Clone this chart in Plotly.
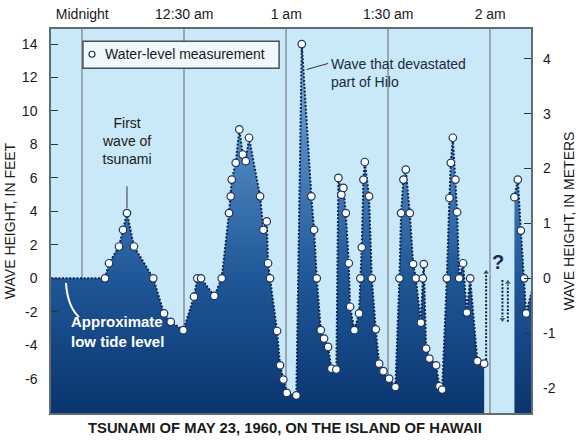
import plotly.graph_objects as go

FT_PER_M = 3.28084
Y_MIN, Y_MAX = -8.05, 14.9
X_MIN, X_MAX = -9.2, 132.0

# minutes after midnight / wave height in feet
seg1_min = [6.68, 7.86, 10.80, 11.98, 13.15, 15.21, 20.89, 24.04, 26.02, 29.72,
            32.87, 33.84, 34.93, 38.85, 41.02, 43.17, 43.67, 43.97, 45.14, 46.20,
            47.20, 48.09, 49.06, 52.30, 53.27, 54.27, 54.65, 55.24, 57.30, 58.18,
            59.15, 60.15, 62.98, 64.57, 67.39, 68.19, 68.98, 70.16, 71.13, 72.31,
            73.28, 74.75, 75.34, 76.22, 76.81, 77.52, 78.40, 78.78, 80.05, 81.43,
            81.81, 82.22, 82.70, 83.11, 84.37, 85.17, 86.34, 87.32, 88.58, 90.26,
            92.11, 93.29, 93.79, 94.47, 95.17, 96.35, 97.32, 98.12, 99.59, 100.18,
            100.47, 101.15, 102.12, 104.09, 105.06, 105.86, 107.24, 108.00, 108.42, 109.00,
            109.77, 110.27, 110.86, 112.03, 113.13, 114.10, 116.24, 118.22]
seg1_ft = [0, 0.9, 1.9, 2.9, 3.9, 1.9, 0, -2.1, -2.6, -3.1,
           -1.1, 0, 0, -1.05, 0, 3.9, 4.9, 5.9, 6.9, 8.9,
           7.4, 7.0, 8.4, 4.9, 2.9, 3.4, 0.9, 0, -3.15, -5.2,
           -6.05, -6.85, -7.0, 14.0, 4.9, 2.9, 0, -3.1, -3.6, -4.1,
           -5.4, -5.45, 6.0, 5.0, 5.4, 3.9, 0.9, -1.7, -3.1, -2.1,
           0, 1.85, 5.9, 6.95, 4.9, 0, -3.05, -5.1, -5.55, -6.0,
           -6.5, 0, 3.9, 5.9, 6.5, 3.9, 0.85, 0, -2.65, 0,
           0.85, -4.2, -4.8, -5.2, -6.45, -6.65, 0, 4.8, 6.9, 8.4,
           5.9, 3.95, 0, 0.9, -2.05, 0, -4.95, -5.1]

seg2_min = [127.13, 128.13, 129.01, 129.99, 130.57]
seg2_ft = [4.85, 5.9, 2.85, 0, -2.1]
seg2_tail_min, seg2_tail_ft = 132.6, -0.5

low_tide_start_min = X_MIN - 1
low_tide_ft = 0

tick_minutes = [0, 30, 60, 90, 120]
tick_labels = ["Midnight", "12:30 am", "1 am", "1:30 am", "2 am"]
ft_ticks = [-6, -4, -2, 0, 2, 4, 6, 8, 10, 12, 14]
m_ticks = [-2, -1, 0, 1, 2, 3, 4]

FONT = "Liberation Sans, Arial, Helvetica, sans-serif"
BG = "#c9e8f8"
LINE = "#0d2452"
GRAD = dict(type="vertical", start=-8.05, stop=14.5,
            colorscale=[[0, "#0a356f"], [0.36, "#1f5798"], [1, "#79b0e2"]])

fig = go.Figure()

# segment 1 (with low-tide lead-in)
s1x = [low_tide_start_min] + seg1_min
s1y = [low_tide_ft] + seg1_ft
fig.add_trace(go.Scatter(x=s1x, y=[Y_MIN] * len(s1x), mode="lines",
                         line=dict(width=0), showlegend=False, hoverinfo="skip"))
fig.add_trace(go.Scatter(x=s1x, y=s1y, mode="lines", fill="tonexty",
                         fillgradient=GRAD, line=dict(color=LINE, width=2, dash="2px,1.6px"),
                         showlegend=False, hoverinfo="skip"))

# segment 2
s2x = seg2_min + [seg2_tail_min]
s2y = seg2_ft + [seg2_tail_ft]
fig.add_trace(go.Scatter(x=s2x, y=[Y_MIN] * len(s2x), mode="lines",
                         line=dict(width=0), showlegend=False, hoverinfo="skip"))
fig.add_trace(go.Scatter(x=s2x, y=s2y, mode="lines", fill="tonexty",
                         fillgradient=GRAD, line=dict(color=LINE, width=2, dash="2px,1.6px"),
                         showlegend=False, hoverinfo="skip"))

# uncertain-motion arrows in the gap
arrows = [
    (118.8, -4.88, 0.35, "triangle-up"),
    (123.6, -0.1, -2.45, "triangle-down"),
    (125.19, -2.6, -0.25, "triangle-up"),
]
for ax_, y0, y1, sym in arrows:
    fig.add_trace(go.Scatter(x=[ax_, ax_], y=[y0, y1], mode="lines+markers",
                             line=dict(color=LINE, width=2, dash="2px,1.6px"),
                             marker=dict(size=[0, 7], symbol=sym, color=LINE),
                             showlegend=False, hoverinfo="skip"))

# measurement markers
for mx, my in [(seg1_min, seg1_ft), (seg2_min, seg2_ft)]:
    fig.add_trace(go.Scatter(x=mx, y=my, mode="markers",
                             marker=dict(size=7.5, color="white",
                                         line=dict(color="#1b355f", width=1.2)),
                             showlegend=False, hoverinfo="skip"))

# secondary axis anchor trace
fig.add_trace(go.Scatter(x=[None], y=[None], yaxis="y2", showlegend=False))

annotations = [
    dict(x=13.15, y=8.2, text="First<br>wave of<br>tsunami", showarrow=False,
         font=dict(size=14, color="#1a1a1a"), align="center", yanchor="middle"),
    dict(x=72.6, y=12.3, text="Wave that devastated<br>part of Hilo", showarrow=False,
         xanchor="left", align="left", font=dict(size=14, color="#1a2a40")),
    dict(x=-3.8, y=-3.15, text="<b>Approximate<br>low tide level</b>", showarrow=False,
         xanchor="left", align="left", font=dict(size=15, color="white")),
    dict(x=122.3, y=0.97, text="<b>?</b>", showarrow=False,
         font=dict(size=20, color="#1a2a50")),
    dict(x=6.1, y=13.39, text="Water-level measurement", showarrow=False,
         xanchor="left", font=dict(size=14, color="#1a1a1a")),
    dict(xref="paper", yref="paper", x=0.4885, y=-0.038, yanchor="middle",
         text="<b>TSUNAMI OF MAY 23, 1960, ON THE ISLAND OF HAWAII</b>",
         showarrow=False, font=dict(size=14.8, color="#1a1a1a")),
]

shapes = [
    # legend box
    dict(type="rect", xref="x", yref="y", x0=0.2, x1=57.9, y0=12.56, y1=14.17,
         fillcolor="#eef8fd", line=dict(color="#4a4f55", width=1.5), layer="above"),
    dict(type="circle", xref="x", yref="y", xsizemode="pixel", ysizemode="pixel",
         xanchor=2.85, yanchor=13.39, x0=-3, x1=3, y0=-3, y1=3,
         fillcolor="white", line=dict(color="#1b355f", width=1.2), layer="above"),
    # pointer lines
    dict(type="line", xref="x", yref="y", x0=13.15, x1=13.15, y0=5.5, y1=4.2,
         line=dict(color="#333", width=1)),
    dict(type="line", xref="x", yref="y", x0=66.0, x1=72.3, y0=12.48, y1=12.84,
         line=dict(color="#333", width=1), layer="above"),
    # low tide pointer
    dict(type="path", xref="x", yref="y",
         path="M -4.8,-0.28 Q -4.3,-1.7 -0.97,-2.31",
         line=dict(color="white", width=2), layer="above"),
]

fig.update_layout(
    width=580, height=441,
    margin=dict(l=51, r=49, t=29, b=28),
    paper_bgcolor="white", plot_bgcolor=BG,
    font=dict(family=FONT, size=14, color="#1a1a1a"),
    showlegend=False,
    annotations=annotations, shapes=shapes,
    xaxis=dict(range=[X_MIN, X_MAX], side="top", tickvals=tick_minutes, ticktext=tick_labels,
               showgrid=True, gridcolor="#98a6b2", gridwidth=2, ticks="",
               zeroline=False, showline=True, mirror=True, linecolor="#5f6b75", linewidth=1.5,
               tickfont=dict(size=14), ticklabelstandoff=3, automargin=False),
    yaxis=dict(range=[Y_MIN, Y_MAX], tickvals=ft_ticks, ticktext=[str(v) for v in ft_ticks],
               ticks="inside", ticklen=7, tickcolor="#333", showgrid=False, zeroline=False,
               showline=True, mirror=True, linecolor="#5f6b75", linewidth=1.5,
               tickfont=dict(size=14), ticklabelstandoff=9, automargin=False,
               title=dict(text="WAVE HEIGHT, IN FEET", font=dict(size=14), standoff=3)),
    yaxis2=dict(range=[Y_MIN / FT_PER_M, Y_MAX / FT_PER_M], overlaying="y", side="right",
                tickvals=m_ticks, ticktext=[str(v) for v in m_ticks],
                ticks="inside", ticklen=7, tickcolor="#333", showgrid=False, zeroline=False,
                tickfont=dict(size=14), ticklabelstandoff=11, automargin=False,
                title=dict(text="WAVE HEIGHT, IN METERS", font=dict(size=14), standoff=9)),
)

fig.write_html("out.html", config={"displayModeBar": False},
               post_script="document.body.style.margin='0';document.body.style.padding='0';")
